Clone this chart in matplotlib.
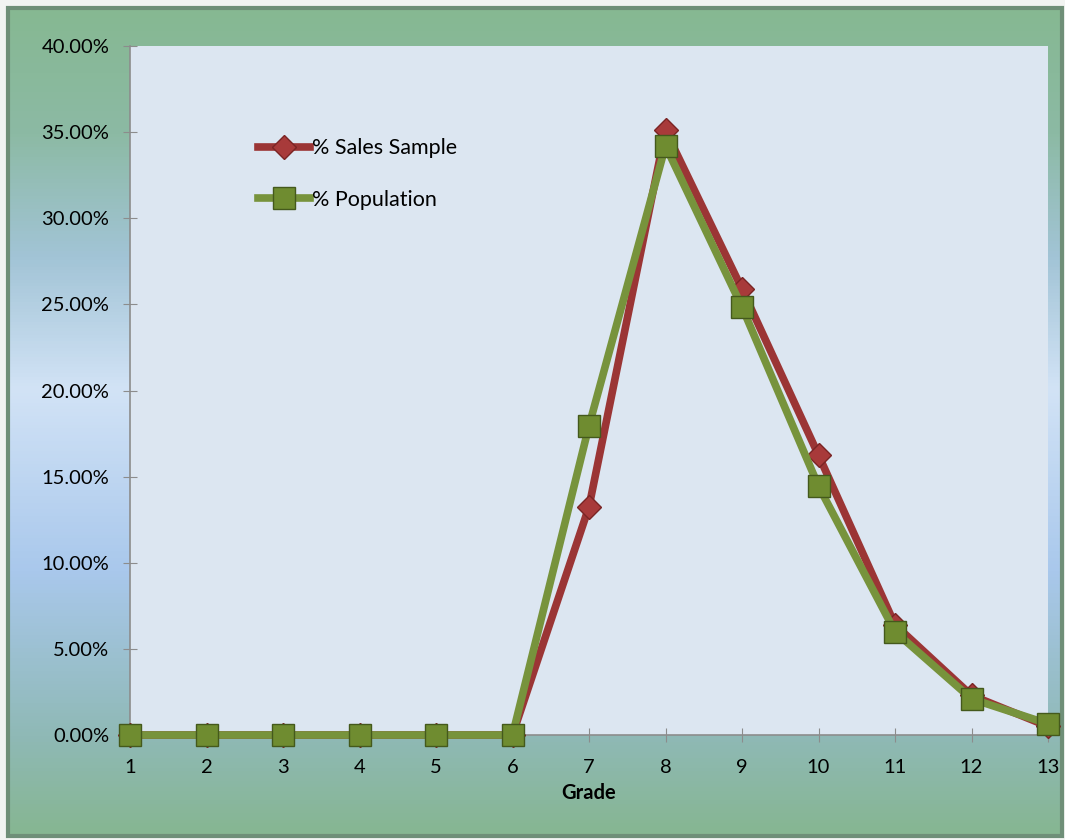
import numpy as np
import matplotlib.pyplot as plt
from matplotlib.colors import LinearSegmentedColormap
from matplotlib.patches import Rectangle
from matplotlib.ticker import PercentFormatter

# data
grades = [1, 2, 3, 4, 5, 6, 7, 8, 9, 10, 11, 12, 13]
sales_sample = [0, 0, 0, 0, 0, 0, 13.25, 35.1, 25.9, 16.25, 6.4, 2.3, 0.5]
population = [0, 0, 0, 0, 0, 0, 17.95, 34.2, 24.85, 14.45, 6.0, 2.1, 0.65]
yticks = [0, 5, 10, 15, 20, 25, 30, 35, 40]

plt.rcParams['font.family'] = ['Lato', 'DejaVu Sans']

fig = plt.figure(figsize=(10.65, 8.4), dpi=100)
fig.patch.set_facecolor('#f2f4f2')

# background frame with vertical gradient
bg = fig.add_axes([0, 0, 1, 1])
bg.set_xlim(0, 1065)
bg.set_ylim(840, 0)
bg.axis('off')
stops = [(0.0, '#86b892'), (0.15, '#8cbaa4'), (0.3, '#a2c4d6'), (0.46, '#d2e3f6'),
         (0.68, '#a9c8ec'), (0.88, '#8fb9b6'), (1.0, '#86b691')]
cmap = LinearSegmentedColormap.from_list('frame', stops)
grad = np.linspace(0, 1, 256).reshape(-1, 1)
bg.imshow(grad, cmap=cmap, aspect='auto', extent=(8, 1062, 836, 8))
bg.add_patch(Rectangle((8, 8), 1054, 828, fill=False, edgecolor='#6f8f78', linewidth=3))

ax = fig.add_axes([130 / 1065, 105 / 840, 918 / 1065, 689 / 840])
ax.set_facecolor('#dce6f1')
ax.plot(grades, sales_sample, color='#9b3535', linewidth=5.5, marker='D',
        markersize=12, markerfacecolor='#a83a3a', markeredgecolor='#7a2424',
        label='% Sales Sample', clip_on=False, zorder=3)
ax.plot(grades, population, color='#77933c', linewidth=5.5, marker='s',
        markersize=16, markerfacecolor='#6f8c30', markeredgecolor='#44591c',
        label='% Population', clip_on=False, zorder=4)

ax.set_xlim(1, 13)
ax.set_ylim(0, 40)
ax.set_xticks(grades)
ax.set_yticks(yticks)
ax.yaxis.set_major_formatter(PercentFormatter(decimals=2))
ax.tick_params(direction='inout', length=10, color='#8c8c8c', labelsize=14.5, pad=10)
ax.tick_params(axis='x', pad=12)
for s in ['top', 'right']:
    ax.spines[s].set_visible(False)
for s in ['left', 'bottom']:
    ax.spines[s].set_color('#8c8c8c')
    ax.spines[s].set_linewidth(1.2)
ax.set_xlabel('Grade', fontsize=14.5, fontweight='bold', labelpad=5)

ax.legend(loc='upper left', bbox_to_anchor=(0.139, 0.866), frameon=False, fontsize=15.5,
          handlelength=2.45, handletextpad=0.1, labelspacing=1.45,
          borderpad=0, borderaxespad=0)

fig.savefig('out.png', dpi=100, facecolor=fig.get_facecolor())
